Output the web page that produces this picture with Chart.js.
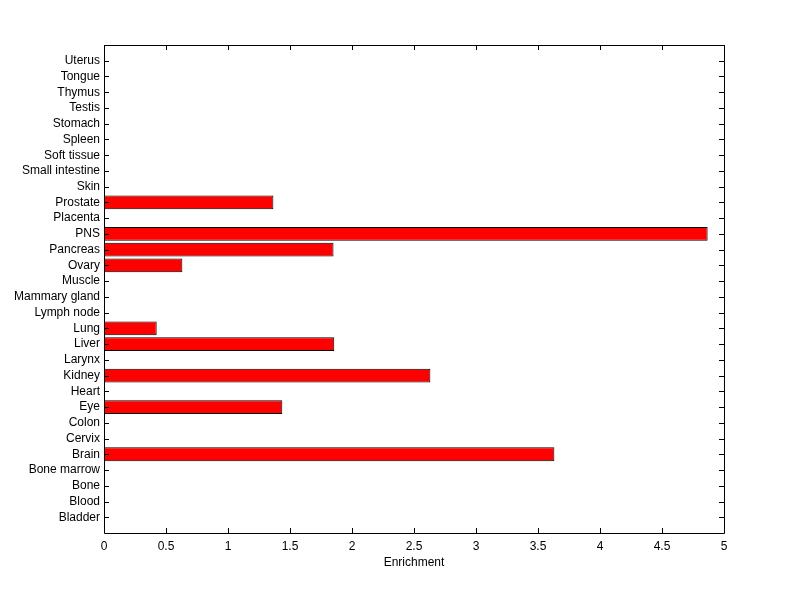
<!DOCTYPE html>
<html>
<head>
<meta charset="utf-8">
<script src="https://cdn.jsdelivr.net/npm/chart.js@4"></script>
<style>
html,body{margin:0;padding:0;background:#fff;}
#wrap{width:800px;height:599px;position:relative;}
</style>
</head>
<body>
<div id="wrap"><canvas id="c" width="800" height="599"></canvas></div>
<script>
const categories = ["Bladder","Blood","Bone","Bone marrow","Brain","Cervix","Colon","Eye","Heart","Kidney","Larynx","Liver","Lung","Lymph node","Mammary gland","Muscle","Ovary","Pancreas","PNS","Placenta","Prostate","Skin","Small intestine","Soft tissue","Spleen","Stomach","Testis","Thymus","Tongue","Uterus"];
const enrichment = [0,0,0,0,3.632,0,0,1.438,0,2.632,0,1.857,0.425,0,0,0,0.632,1.851,4.868,0,1.366,0,0,0,0,0,0,0,0,0];
const xTicks = [0,0.5,1,1.5,2,2.5,3,3.5,4,4.5,5];
const xLabel = "Enrichment";

const FONT = "'Liberation Sans', Arial, Helvetica, sans-serif";

const inwardTicks = {
  id: 'inwardTicks',
  afterDraw(chart) {
    const {ctx, chartArea: a, scales} = chart;
    ctx.save();
    ctx.strokeStyle = '#000';
    ctx.lineWidth = 1;
    const L = 5;
    ctx.beginPath();
    scales.x.ticks.forEach(t => {
      const px = Math.round(scales.x.getPixelForValue(t.value)) + 0.5;
      ctx.moveTo(px, a.bottom); ctx.lineTo(px, a.bottom - L);
      ctx.moveTo(px, a.top); ctx.lineTo(px, a.top + L);
    });
    scales.y.ticks.forEach(t => {
      const py = Math.round(scales.y.getPixelForValue(t.value)) + 0.5;
      ctx.moveTo(a.left, py); ctx.lineTo(a.left + L, py);
      ctx.moveTo(a.right, py); ctx.lineTo(a.right - L, py);
    });
    ctx.stroke();
    ctx.beginPath();
    ctx.rect(Math.round(a.left) + 0.5, Math.round(a.top) + 0.5, Math.round(a.right - a.left), Math.round(a.bottom - a.top));
    ctx.stroke();
    ctx.restore();
  }
};

new Chart(document.getElementById('c'), {
  type: 'bar',
  data: {
    datasets: [{
      data: enrichment.map((v, i) => ({x: v, y: i + 1})),
      backgroundColor: '#ff0000',
      borderColor: '#000000',
      borderWidth: 1,
      borderSkipped: false,
      barPercentage: 0.88,
      categoryPercentage: 1
    }]
  },
  options: {
    indexAxis: 'y',
    responsive: false,
    animation: false,
    events: [],
    layout: {padding: {left: 0, top: 45, right: 76, bottom: 0}},
    plugins: {legend: {display: false}, tooltip: {enabled: false}},
    scales: {
      x: {
        type: 'linear',
        min: 0, max: 5,
        afterBuildTicks(s) { s.ticks = xTicks.map(v => ({value: v})); },
        afterFit(s) { s.height = 66; },
        grid: {display: false, drawTicks: false},
        border: {display: false},
        ticks: {
          color: '#000', padding: 6,
          font: {family: FONT, size: 12},
          callback: v => String(v)
        },
        title: {display: true, text: xLabel, color: '#000', font: {family: FONT, size: 12}, padding: {top: 3, bottom: 29}}
      },
      y: {
        type: 'linear',
        offset: false,
        min: 0, max: categories.length + 1,
        afterBuildTicks(s) { s.ticks = categories.map((c, i) => ({value: i + 1})); },
        afterFit(s) { s.width = 104; },
        grid: {display: false, drawTicks: false, offset: false},
        border: {display: false},
        ticks: {
          color: '#000', padding: 4, autoSkip: false,
          font: {family: FONT, size: 12},
          callback: v => categories[v - 1]
        }
      }
    }
  },
  plugins: [inwardTicks]
});
</script>
</body>
</html>
